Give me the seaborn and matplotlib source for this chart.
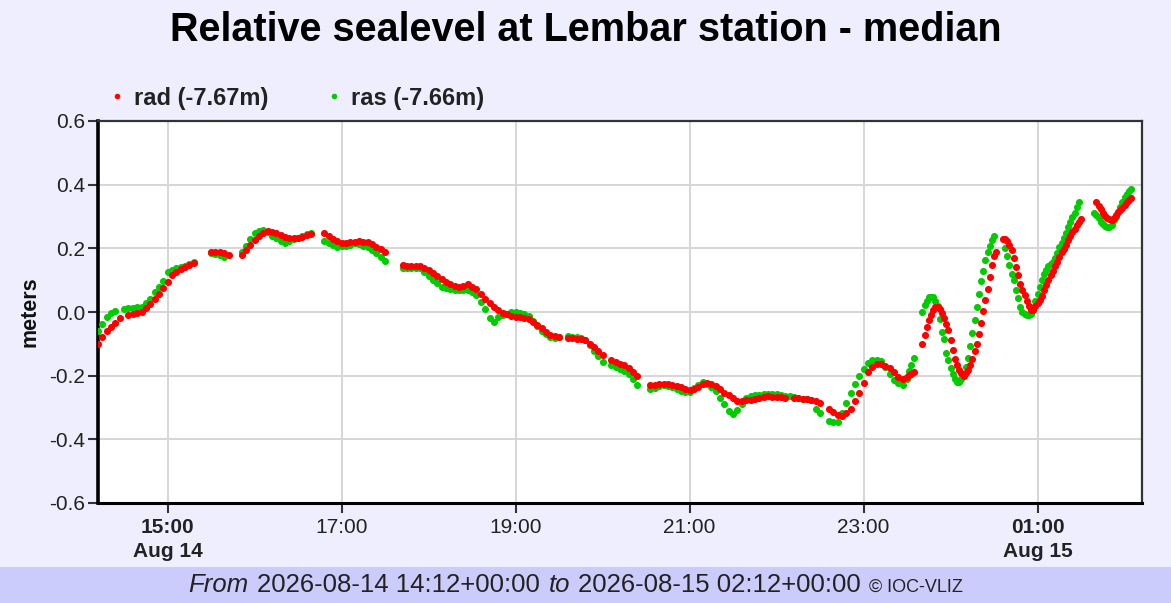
import numpy as np
import pandas as pd
import seaborn as sns
import matplotlib.pyplot as plt
from matplotlib.lines import Line2D
from matplotlib.patches import Rectangle
from matplotlib.offsetbox import TextArea, HPacker, AnchoredOffsetbox

nan = np.nan

# readings every 3 min from 14:12 to 23:27, then every 90 s from 23:30 to 02:12
early_start = "2026-08-14 14:12"
late_start = "2026-08-14 23:30"

rad_early = [
    -0.10, -0.08, -0.06, -0.048, -0.035, -0.02, nan, -0.01, -0.007, -0.004, 0.0, 0.012, 0.026, 0.04, 0.058, 0.076, 0.095, 0.115, 0.126, 0.135,
    0.141, 0.147, 0.153, nan, nan, nan, 0.19, 0.189, 0.188, 0.184, 0.18, nan, nan, 0.18, 0.195, 0.21, 0.225, 0.238, 0.249, 0.253,
    0.251, 0.248, 0.243, 0.237, 0.233, 0.231, 0.234, 0.237, 0.241, 0.246, nan, nan, 0.247, 0.238, 0.228, 0.222, 0.217, 0.217, 0.219, 0.221,
    0.222, 0.221, 0.219, 0.214, 0.205, 0.197, 0.187, nan, nan, nan, 0.147, 0.146, 0.145, 0.145, 0.144, 0.138, 0.132, 0.123, 0.113, 0.103,
    0.093, 0.087, 0.081, 0.079, 0.083, 0.087, 0.079, 0.071, 0.058, 0.041, 0.028, 0.017, 0.006, -0.002, -0.007, -0.013, -0.016, -0.017, -0.018, -0.021,
    -0.031, -0.04, -0.051, -0.062, -0.072, -0.076, -0.08, nan, -0.082, -0.083, -0.084, -0.085, -0.088, -0.099, -0.109, -0.121, -0.134, nan, -0.15, -0.156,
    -0.162, -0.168, -0.176, -0.188, -0.2, nan, nan, -0.229, -0.228, -0.226, -0.225, -0.227, -0.228, -0.232, -0.237, -0.241, -0.244, -0.241, -0.235, -0.227,
    -0.224, -0.226, -0.231, -0.242, -0.253, -0.262, -0.271, -0.28, -0.279, -0.277, -0.275, -0.273, -0.27, -0.268, -0.265, -0.266, -0.267, -0.268, -0.269, nan,
    -0.27, -0.271, -0.272, -0.274, -0.275, -0.28, -0.285, nan, -0.306, -0.315, -0.323, -0.327, -0.318, -0.306, -0.28, -0.253, -0.223, -0.19, -0.173, -0.162,
    -0.163, -0.169, -0.175, -0.189, -0.203, -0.21,
]
rad_late = [
    -0.203, -0.198, -0.194, -0.19, nan, nan, nan, -0.1, -0.072, -0.048,
    -0.026, -0.008, 0.006, 0.016, 0.015, 0.008, -0.004, -0.019, -0.037, -0.056,
    -0.088, -0.118, -0.147, -0.168, -0.182, -0.193, -0.2, -0.191, -0.182, -0.166,
    -0.148, -0.123, -0.099, -0.07, -0.033, 0.003, 0.037, 0.073, 0.11, 0.147,
    0.175, 0.19, nan, nan, 0.229, 0.228, 0.223, 0.21, 0.196, 0.17,
    0.14, 0.115, 0.088, 0.069, 0.052, 0.036, 0.02, 0.007, 0.006, 0.018,
    0.028, 0.038, 0.051, 0.068, 0.084, 0.1, 0.115, 0.13, 0.143, 0.156,
    0.172, 0.187, 0.199, 0.212, 0.225, 0.238, 0.25, 0.262, 0.272, 0.283,
    0.293, nan, nan, nan, nan, nan, nan, 0.344, 0.333, 0.322,
    0.311, 0.302, 0.296, 0.291, 0.288, 0.295, 0.305, 0.313, 0.32, 0.327,
    0.335, 0.346, 0.353, 0.358, nan, nan, nan, nan, nan,
]

ras_early = [
    -0.06, -0.037, -0.015, -0.003, 0.004, nan, 0.01, 0.012, 0.013, 0.015, 0.016, 0.027, 0.04, 0.063, 0.079, 0.097, 0.125, 0.133, 0.137, 0.14,
    0.144, 0.15, 0.157, nan, nan, nan, 0.185, 0.182, 0.178, 0.173, nan, nan, nan, 0.19, 0.208, 0.228, 0.247, 0.256, 0.259, 0.252,
    0.24, 0.231, 0.223, 0.216, 0.222, 0.228, 0.234, 0.24, 0.244, 0.247, nan, nan, 0.224, 0.217, 0.21, 0.203, 0.206, 0.208, 0.212, 0.216,
    0.213, 0.208, 0.203, 0.194, 0.185, 0.172, 0.16, nan, nan, nan, 0.138, 0.138, 0.138, 0.138, 0.138, 0.126, 0.114, 0.102, 0.09, 0.079,
    0.074, 0.072, 0.07, 0.069, 0.07, 0.07, 0.062, 0.053, 0.031, 0.008, -0.018, -0.032, -0.015, -0.01, -0.006, -0.001, -0.001, -0.003, -0.005, -0.011,
    -0.028, -0.045, -0.059, -0.069, -0.078, -0.081, -0.08, nan, -0.076, -0.078, -0.08, -0.083, -0.089, -0.104, -0.121, -0.138, -0.156, nan, -0.165, -0.172,
    -0.178, -0.185, -0.195, -0.212, -0.23, nan, nan, -0.242, -0.238, -0.234, -0.23, -0.234, -0.237, -0.243, -0.248, -0.251, -0.252, -0.24, -0.229, -0.219,
    -0.227, -0.235, -0.248, -0.27, -0.29, -0.31, -0.32, -0.309, -0.289, -0.27, -0.264, -0.261, -0.26, -0.258, -0.257, -0.257, -0.259, -0.261, -0.263, -0.265,
    -0.268, -0.27, -0.272, -0.274, -0.275, -0.305, -0.316, nan, -0.341, -0.344, -0.347, -0.316, -0.285, -0.253, -0.226, -0.2, -0.178, -0.161, -0.15, -0.152,
    -0.155, -0.174, -0.194, -0.213, -0.222, -0.228,
]
ras_late = [
    -0.21, -0.186, -0.165, -0.145, nan, nan, nan, 0.0, 0.022, 0.033,
    0.046, 0.048, 0.048, 0.035, 0.02, -0.021, -0.062, -0.085, -0.128, -0.15,
    -0.176, -0.196, -0.21, -0.221, -0.22, -0.212, -0.196, -0.172, -0.145, -0.108,
    -0.066, -0.026, 0.016, 0.056, 0.096, 0.13, 0.164, 0.19, 0.207, 0.227,
    0.238, nan, nan, nan, nan, 0.2, 0.176, 0.148, 0.12, 0.1,
    0.07, 0.045, 0.015, 0.0, -0.005, -0.01, -0.008, -0.005, 0.01, 0.035,
    0.057, 0.08, 0.1, 0.12, 0.133, 0.143, 0.15, 0.158, 0.17, 0.186,
    0.203, 0.218, 0.231, 0.248, 0.266, 0.284, 0.3, 0.31, 0.33, 0.344,
    nan, nan, nan, nan, nan, nan, 0.31, 0.305, 0.295, 0.282,
    0.275, 0.27, 0.266, 0.266, 0.272, 0.288, 0.3, 0.313, 0.33, 0.345,
    0.36, 0.372, 0.38, 0.385, nan, nan, nan, nan, nan,
]

series_labels = ["rad (-7.67m)", "ras (-7.66m)"]
series_colors = ["#ff0000", "#00cc00"]
y_ticks = [-0.6, -0.4, -0.2, 0.0, 0.2, 0.4, 0.6]
x_tick_times = ["2026-08-14 15:00", "2026-08-14 17:00", "2026-08-14 19:00",
                "2026-08-14 21:00", "2026-08-14 23:00", "2026-08-15 01:00"]
x_tick_labels = ["15:00\nAug 14", "17:00", "19:00", "21:00", "23:00", "01:00\nAug 15"]

times = pd.date_range(early_start, periods=len(rad_early), freq="3min").append(
    pd.date_range(late_start, periods=len(rad_late), freq="90s"))
df = pd.DataFrame({"time": times,
                   "rad": rad_early + rad_late,
                   "ras": ras_early + ras_late})

sns.set_style("white")
plt.rcParams["font.family"] = ["Liberation Sans", "DejaVu Sans"]

fig = plt.figure(figsize=(11.71, 6.03), dpi=100, facecolor="#eeeeff")
ax = fig.add_axes([98 / 1171, 1 - 503 / 603, 1044 / 1171, 382 / 603])
ax.set_facecolor("white")

# green first so red sits on top like the original
sns.scatterplot(data=df, x="time", y="ras", color=series_colors[1], s=26,
                linewidth=0, ax=ax, zorder=3)
sns.scatterplot(data=df, x="time", y="rad", color=series_colors[0], s=26,
                linewidth=0, ax=ax, zorder=4)

ax.set_xlim(pd.Timestamp("2026-08-14 14:12"), pd.Timestamp("2026-08-15 02:12"))
ax.set_ylim(-0.6, 0.6)
ax.set_yticks(y_ticks)
ax.set_yticklabels([f"{v:.1f}" for v in y_ticks], fontsize=15, color="#222222")
ax.set_xticks(pd.to_datetime(x_tick_times))
ax.set_xticklabels(x_tick_labels, fontsize=15, color="#222222", linespacing=1.3)
for lbl in ax.get_xticklabels():
    if "\n" in lbl.get_text():
        lbl.set_fontweight("bold")
ax.set_xlabel("")
ax.set_ylabel("")

ax.grid(True, color="#d6d6d6", linewidth=1.4)
ax.set_axisbelow(True)
ax.tick_params(axis="both", direction="out", length=7, width=1.5, color="#333333",
               left=True, bottom=True)
ax.tick_params(axis="x", pad=4)
ax.tick_params(axis="y", pad=2)
ax.spines["left"].set_linewidth(2.6)
ax.spines["bottom"].set_linewidth(2.2)
for side in ["left", "bottom"]:
    ax.spines[side].set_color("black")
for side in ["top", "right"]:
    ax.spines[side].set_linewidth(1.6)
    ax.spines[side].set_color("#333333")

fig.text(0.5, 1 - 30 / 603, "Relative sealevel at Lembar station - median",
         ha="center", va="center", fontsize=28.5, fontweight="bold", color="black")
fig.text(30 / 1171, 1 - 312 / 603, "meters", rotation=90, ha="center", va="center",
         fontsize=15.5, fontweight="bold", color="#111111")

handles = [Line2D([], [], marker="o", linestyle="none", markersize=4,
                  markerfacecolor=c, markeredgewidth=0) for c in series_colors]
fig.legend(handles, series_labels, loc="center left",
           bbox_to_anchor=(113 / 1171, 1 - 98 / 603), ncol=2, frameon=False,
           borderpad=0, borderaxespad=0,
           handlelength=0.3, handletextpad=0.57, columnspacing=2.65,
           prop={"size": 17, "weight": "bold"}, labelcolor="#222222")

# footer band
fig.patches.append(Rectangle((0, 0), 1, 36 / 603, transform=fig.transFigure,
                             facecolor="#ccccfc", edgecolor="none", zorder=0))
style = dict(size=18.5, color="#222222")
parts = [
    TextArea("From", textprops=dict(style="italic", **style)),
    TextArea("2026-08-14 14:12+00:00", textprops=style),
    TextArea("to", textprops=dict(style="italic", **style)),
    TextArea("2026-08-15 02:12+00:00", textprops=style),
    TextArea("© IOC-VLIZ", textprops=dict(size=13, color="#222222")),
]
footer = HPacker(children=parts, align="baseline", pad=0, sep=6)
anchored = AnchoredOffsetbox(loc="center", child=footer, frameon=False,
                             bbox_to_anchor=(576 / 1171, 18 / 603),
                             bbox_transform=fig.transFigure, borderpad=0)
fig.add_artist(anchored)

fig.savefig("out.png", dpi=100, facecolor=fig.get_facecolor())
